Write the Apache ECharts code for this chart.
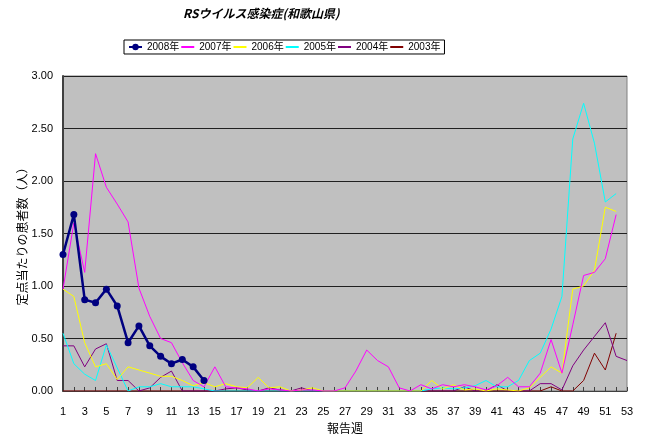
<!DOCTYPE html>
<html><head><meta charset="utf-8">
<script src="https://cdn.jsdelivr.net/npm/echarts@6/dist/echarts.min.js"></script>
<style>html,body{margin:0;padding:0;background:#fff}#c{width:647px;height:439px}</style>
</head><body><div id="c"></div>
<script>
var weeks = ['1','2','3','4','5','6','7','8','9','10','11','12','13','14','15','16','17','18','19','20','21','22','23','24','25','26','27','28','29','30','31','32','33','34','35','36','37','38','39','40','41','42','43','44','45','46','47','48','49','50','51','52','53'];
var yTicks = [0, 0.5, 1, 1.5, 2, 2.5, 3];
var y2008 = [1.30,1.68,0.87,0.84,0.97,0.81,0.46,0.62,0.43,0.33,0.26,0.30,0.23,0.10];
var y2007 = [0.97,1.60,1.13,2.26,1.94,1.78,1.61,0.98,0.71,0.50, 0.46,0.27,0.10,0.04,0.23,0.04,0.03,0.02,0.00,0.02, 0.01,0.00,0.01,0.01,0.00,0.00,0.03,0.19,0.39,0.29, 0.23,0.03,0.00,0.06,0.02,0.06,0.04,0.06,0.04,0.01, 0.05,0.13,0.04,0.04,0.17,0.49,0.17,0.63,1.10,1.13, 1.26,1.68,null];
var y2006 = [0.97,0.90,0.46,0.23,0.26,0.11,0.23,0.20,0.17,0.14, 0.14,0.10,0.05,0.08,0.04,0.07,0.04,0.03,0.13,0.03, 0.04,0.00,0.01,0.03,0.00,0.00,0.00,0.00,0.00,0.00, 0.00,0.00,0.00,0.00,0.10,0.02,0.06,0.01,0.02,0.00, 0.02,0.01,0.00,0.03,0.13,0.23,0.17,0.97,1.00,1.15, 1.75,1.71,null];
var y2005 = [0.55,0.26,0.16,0.10,0.44,0.22,0.00,0.04,0.04,0.07, 0.04,0.04,0.04,0.02,0.00,0.00,0.00,0.00,0.00,0.00, 0,0,0,0,0,0,0,0,0,0, 0,0,0,0,0.02,0.03,0.02,0.03,0.05,0.10, 0.04,0.04,0.10,0.29,0.36,0.59,0.90,2.40,2.74,2.36, 1.80,1.88,null];
var y2004 = [0.43,0.43,0.23,0.40,0.45,0.10,0.10,0.00,0.03,0.13, 0.19,0.00,0,0,0,0.02,0.03,0.01,0,0.03, 0.01,0,0.03,0,0,0,0,0,0,0, 0,0,0,0,0,0,0,0.04,0,0, 0.06,0,0,0,0.07,0.07,0.01,0.24,0.39,0.52, 0.65,0.33,0.29];
var y2003 = [0,0,0,0,0,0,0,0,0,0, 0,0,0,0,0,0,0,0,0,0, 0,0,0,0,0,0,0,0,0,0, 0,0,0,0,0,0,0,0,0,0, 0,0,0,0,0,0.04,0,0,0.10,0.36, 0.20,0.55,null];
var names = ['2008年','2007年','2006年','2005年','2004年','2003年'];

var chart = echarts.init(document.getElementById('c'), null, {renderer:'canvas'});
var F = "'Liberation Sans','Noto Sans CJK JP',sans-serif";
function line(name, data, color, z){
  return {name:name, type:'line', data:data, symbol:'none', z:z,
    lineStyle:{color:color, width:1}, itemStyle:{color:color}, animation:false, connectNulls:false};
}
var legendData = names.map(function(n, i){
  return i === 0 ? {name:n} : {name:n, itemStyle:{opacity:0}};
});
chart.setOption({
  animation:false,
  graphic:[{type:'text', left:183, top:7, style:{text:'RSウイルス感染症(和歌山県)', font:"italic bold 12px 'Noto Sans CJK JP',sans-serif", fill:'#000'}}],
  legend:{data:legendData, left:124, top:40, orient:'horizontal', borderColor:'#000', borderWidth:1, padding:[2,4],
    itemWidth:13, itemHeight:8, itemGap:1, textStyle:{fontFamily:F, fontSize:10, color:'#000'}},
  grid:{left:63, right:20, top:76, bottom:47, show:true, backgroundColor:'#c0c0c0', borderColor:'#808080', borderWidth:1},
  xAxis:{type:'category', data:weeks, boundaryGap:false, name:'報告週', nameLocation:'middle', nameGap:31, nameMoveOverlap:false,
    nameTextStyle:{fontFamily:"'Noto Sans CJK JP',sans-serif", fontSize:12, color:'#000'},
    axisLine:{lineStyle:{color:'#404040', width:1}},
    axisTick:{interval:0, inside:true, length:4, lineStyle:{color:'#404040'}},
    axisLabel:{interval:1, margin:15, fontFamily:F, fontSize:11, color:'#000'},
    splitLine:{show:false}},
  yAxis:{type:'value', min:0, max:3, interval:0.5, name:'定点当たりの患者数（人）', nameLocation:'middle', nameGap:35, nameMoveOverlap:false,
    nameTextStyle:{fontFamily:"'Noto Sans CJK JP',sans-serif", fontSize:12, color:'#000'},
    axisLine:{show:true, lineStyle:{color:'#404040', width:2}},
    axisTick:{show:false},
    axisLabel:{margin:10, fontFamily:F, fontSize:11, color:'#000', formatter:function(v){return v.toFixed(2);}},
    splitLine:{lineStyle:{color:'#202020', width:1}}},
  series:[
    line('2003年', y2003, '#800000', 2),
    line('2004年', y2004, '#800080', 3),
    line('2005年', y2005, '#00ffff', 4),
    line('2006年', y2006, '#ffff00', 5),
    line('2007年', y2007, '#ff00ff', 6),
    {name:'2008年', type:'line', data:y2008, symbol:'circle', symbolSize:7, z:10,
      lineStyle:{color:'#000080', width:2.5}, itemStyle:{color:'#000080'}}
  ]
});
</script></body></html>
